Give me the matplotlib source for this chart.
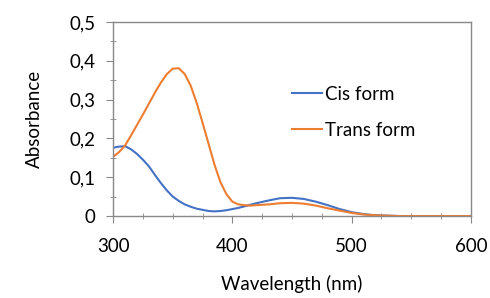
import matplotlib
matplotlib.use("Agg")
import matplotlib.pyplot as plt
from matplotlib.ticker import MultipleLocator, FuncFormatter

plt.rcParams["font.family"] = ["Lato", "DejaVu Sans"]

wavelength = [300, 305, 310, 315, 320, 325, 330, 335, 340, 345, 350, 355, 360,
              365, 370, 375, 380, 385, 390, 395, 400, 405, 410, 415, 420, 430,
              440, 450, 460, 470, 480, 490, 500, 510, 520, 530, 540, 560, 580, 600]
cis_form = [0.176, 0.179, 0.180, 0.172, 0.160, 0.145, 0.128, 0.106, 0.085, 0.066,
            0.050, 0.039, 0.030, 0.024, 0.019, 0.016, 0.013, 0.012, 0.013, 0.015,
            0.018, 0.021, 0.025, 0.029, 0.033, 0.040, 0.046, 0.047, 0.044, 0.037,
            0.028, 0.018, 0.010, 0.005, 0.002, 0.001, 0.0, 0.0, 0.0, 0.0]
trans_form = [0.153, 0.165, 0.182, 0.208, 0.235, 0.262, 0.290, 0.318, 0.344, 0.366,
              0.380, 0.381, 0.366, 0.336, 0.292, 0.240, 0.186, 0.132, 0.087, 0.056,
              0.037, 0.030, 0.028, 0.027, 0.028, 0.030, 0.033, 0.034, 0.032, 0.027,
              0.020, 0.014, 0.008, 0.004, 0.002, 0.001, 0.0, 0.0, 0.0, 0.0]

frame_color = "#888888"

fig = plt.figure(figsize=(4.9, 2.98), dpi=100)
ax = fig.add_axes([0.231, 0.275, 0.730, 0.651])

ax.plot(wavelength, cis_form, color="#4472C4", lw=1.5, label="Cis form",
        solid_joinstyle="round")
ax.plot(wavelength, trans_form, color="#ED7D31", lw=1.5, label="Trans form",
        solid_joinstyle="round")

ax.set_xlim(300, 600)
ax.set_ylim(0, 0.5)
ax.xaxis.set_major_locator(MultipleLocator(100))
ax.xaxis.set_minor_locator(MultipleLocator(25))
ax.yaxis.set_major_locator(MultipleLocator(0.1))
ax.yaxis.set_minor_locator(MultipleLocator(0.05))
ax.yaxis.set_major_formatter(
    FuncFormatter(lambda v, _: "0" if abs(v) < 1e-9 else f"{v:.1f}".replace(".", ",")))

for side in ax.spines.values():
    side.set_color(frame_color)
    side.set_linewidth(1.0)
ax.tick_params(which="major", direction="out", length=5, color=frame_color,
               labelsize=13.5)
ax.tick_params(axis="x", which="major", pad=11)
ax.tick_params(axis="y", which="major", pad=8)
ax.tick_params(which="minor", direction="inout", length=5, color=frame_color)

ax.set_xlabel("Wavelength (nm)", fontsize=13.5, labelpad=14)
ax.set_ylabel("Absorbance", fontsize=13.5, labelpad=19)

ax.legend(loc="upper left", bbox_to_anchor=(0.48, 0.71), frameon=False,
          fontsize=13.5, handlelength=1.6, handletextpad=0.15, labelspacing=1.0,
          borderaxespad=0)

fig.savefig("out.png", dpi=100)
